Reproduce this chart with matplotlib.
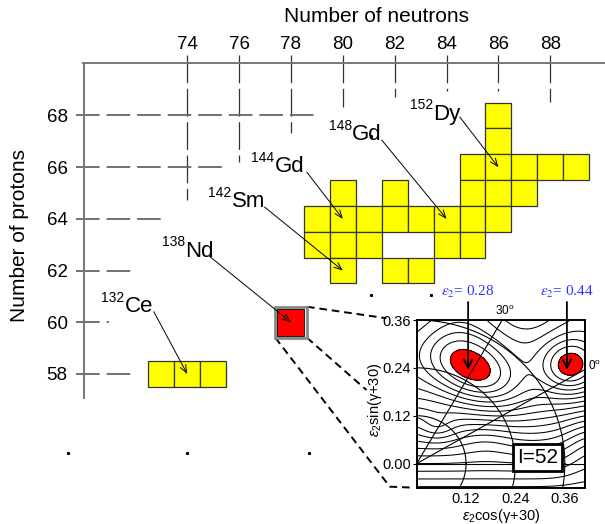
import numpy as np
import matplotlib.pyplot as plt
from matplotlib.patches import Rectangle

plt.rcParams['font.family'] = ['Liberation Sans', 'DejaVu Sans']
plt.rcParams['mathtext.fontset'] = 'custom'
plt.rcParams['mathtext.rm'] = 'Liberation Sans'
plt.rcParams['mathtext.it'] = 'Liberation Sans:italic'
plt.rcParams['lines.scale_dashes'] = False

# ---- nuclear chart data ----
# proton number -> neutron numbers of the yellow cells
yellow_cells = {
    68: [86],
    67: [86],
    66: [85, 86, 87, 88, 89],
    65: [80, 82, 85, 86, 87],
    64: [79, 80, 81, 82, 83, 84, 85, 86],
    63: [79, 80, 81, 84, 85],
    62: [80, 82, 83],
    58: [73, 74, 75],
}
red_cell = (78, 60)

neutron_ticks = [74, 76, 78, 80, 82, 84, 86, 88]
v_grid_end = [64.73, 66.2, 67.32, 68.33, 68.72, 68.95, 68.95, 68.52]
proton_ticks = [68, 66, 64, 62, 60, 58]
h_grid_end = [79.0, 75.37, 73.0, 72.0, 71.0, 72.0]

# isotope labels: mass, element, text x (N), baseline (Z), arrow start, arrow target
iso_mass = ['152', '148', '144', '142', '138', '132']
iso_elem = ['Dy', 'Gd', 'Gd', 'Sm', 'Nd', 'Ce']
iso_text_N = [83.47, 80.34, 77.37, 75.71, 73.90, 71.58]
iso_text_Z = [67.83, 67.05, 65.81, 64.46, 62.53, 60.40]
iso_start_N = [84.51, 81.50, 78.61, 76.98, 74.86, 72.71]
iso_start_Z = [67.94, 67.05, 65.81, 64.46, 62.55, 60.41]
iso_target_N = [86, 84, 80, 80, 78, 74]
iso_target_Z = [66, 64, 64, 62, 60, 58]

# zoom connector lines (main data coords)
conn_lines = [
    ([78.62, 81.68], [60.60, 60.155]),
    ([78.62, 80.91], [59.40, 57.38]),
    ([77.40, 81.81, 82.74], [59.40, 53.64, 53.60]),
]
speck_N = [69.4, 74.0, 78.7, 81.1, 81.1, 83.4]
speck_Z = [54.95, 54.95, 54.95, 67.2, 61.06, 61.06]

# ---- inset (TRS) data ----
inset_xticks = [0.12, 0.24, 0.36]
inset_yticks = [0.00, 0.12, 0.24, 0.36]
arc_radii = [0.12, 0.24, 0.36]
ray_angles = [30, 60]
# gaussian wells (negative) and bumps (positive) of the surface
well_x = [0.135, 0.374, 0.05, 0.27, 0.43, 0.17, 0.0]
well_y = [0.236, 0.243, 0.09, 0.42, 0.05, 0.06, 0.36]
well_depth = [-5.2, -5.0, -1.3, 3.0, 2.5, 0.9, 1.5]
well_sa = [0.09, 0.05, 0.03, 0.07, 0.05, 0.05, 0.06]
well_sb = [0.055, 0.05, 0.025, 0.07, 0.06, 0.035, 0.06]
well_ang = [-35, 0, 0, 0, 0, 0, 0]
slope_y0 = 0.2
slope_k = 52.0
red_above_min = 0.8
minima_x = [0.125, 0.365]
minima_y = [0.235, 0.235]
minima_label = [r'$\varepsilon_2$= 0.28', r'$\varepsilon_2$= 0.44']

fig = plt.figure(figsize=(6.05, 5.24), dpi=100)

# main axes: pixel box left 83.5, top 63, bottom 398
ax = fig.add_axes([83.5 / 605, 1 - 398 / 524, (605 - 83.5) / 605, (398 - 63) / 524])
ax.set_xlim(70, 90.11)
ax.set_ylim(57.07, 70.03)
ax.set_facecolor('none')
for side in ['right', 'bottom']:
    ax.spines[side].set_visible(False)
for side in ['left', 'top']:
    ax.spines[side].set_color('#777777')
    ax.spines[side].set_linewidth(1.4)

ax.xaxis.tick_top()
ax.set_xticks(neutron_ticks)
ax.set_yticks(proton_ticks)
ax.tick_params(axis='x', length=0, pad=7.5, labelsize=13.5)
ax.tick_params(axis='y', length=0, pad=11.5, labelsize=13.5)

# dashed guide lines (including the outer tick part)
for n, zend in zip(neutron_ticks, v_grid_end):
    ax.plot([n, n], [70.34, zend], color='#333333', lw=0.9,
            dashes=(20, 4), clip_on=False)
for z, nend in zip(proton_ticks, h_grid_end):
    ax.plot([69.71, nend], [z, z], color='#666666', lw=1.3,
            dashes=(17, 5), clip_on=False)

for z, ns in yellow_cells.items():
    for n in ns:
        ax.add_patch(Rectangle((n - 0.5, z - 0.5), 1, 1, fc='#ffff00',
                               ec='#333333', lw=0.9, zorder=3))

rn, rz = red_cell
ax.add_patch(Rectangle((rn - 0.61, rz - 0.6), 1.22, 1.2, fc='white',
                       ec='#888888', lw=2.0, zorder=3))
ax.add_patch(Rectangle((rn - 0.52, rz - 0.52), 1.04, 1.04, fc='#ff0000',
                       ec='#222222', lw=0.8, zorder=3))

for m, el, tx, tz, sx, sz, gx, gz in zip(iso_mass, iso_elem, iso_text_N, iso_text_Z,
                                         iso_start_N, iso_start_Z, iso_target_N, iso_target_Z):
    ax.text(tx, tz, el, fontsize=16, ha='left', va='baseline', zorder=5)
    ax.annotate(m, xy=(tx, tz), xytext=(0, 7.5), textcoords='offset points',
                fontsize=10, ha='right', va='baseline', zorder=5)
    ax.annotate('', xy=(gx, gz), xytext=(sx, sz), zorder=6,
                arrowprops=dict(arrowstyle='->,head_length=0.55,head_width=0.22',
                                lw=0.7, color='black', shrinkA=0, shrinkB=0))

for xs, ys in conn_lines:
    ax.plot(xs, ys, color='black', lw=1.4, dashes=(5.5, 3.5), clip_on=False, zorder=2)

ax.plot(speck_N, speck_Z, ls='none', marker='s', ms=1.2, color='black', clip_on=False)

fig.text(376 / 605, 1 - 17 / 524, 'Number of neutrons', ha='center', va='center', fontsize=15)
fig.text(20 / 605, 1 - 236 / 524, 'Number of protons', ha='center', va='center',
         rotation=90, fontsize=15)

# ---- inset ----
ax2 = fig.add_axes([416.7 / 605, 1 - 488.3 / 524, 168.3 / 605, 168.3 / 524])
xmax, ymin, ymax = 0.409, -0.062, 0.36
ax2.set_xlim(0, xmax)
ax2.set_ylim(ymin, ymax)

gxs = np.linspace(0, xmax, 400)
gys = np.linspace(ymin, ymax, 400)
X, Y = np.meshgrid(gxs, gys)
s = 0.04
E = slope_k * s * np.log1p(np.exp((slope_y0 - Y) / s))
for wx, wy, d, sa, sb, ang in zip(well_x, well_y, well_depth, well_sa, well_sb, well_ang):
    t = np.deg2rad(ang)
    u = (X - wx) * np.cos(t) + (Y - wy) * np.sin(t)
    v = -(X - wx) * np.sin(t) + (Y - wy) * np.cos(t)
    E += d * np.exp(-0.5 * ((u / sa) ** 2 + (v / sb) ** 2))

red_level = max(E[(X < 0.25) & (Y > 0.15)].min(), E[X > 0.3].min()) + red_above_min
levels = red_level + np.arange(0, 40) * 1.0
ax2.contourf(X, Y, E, levels=[E.min() - 1, red_level], colors=['#ff0000'])
ax2.contour(X, Y, E, levels=levels, colors='black', linewidths=0.75,
            negative_linestyles='solid')

th = np.linspace(0, 2 * np.pi, 400)
for r in arc_radii:
    ax2.plot(r * np.cos(th), r * np.sin(th), color='black', lw=0.8)
for a in ray_angles:
    ax2.plot([0, 1], [0, np.tan(np.deg2rad(a))], color='black', lw=0.8)
ax2.axhline(0, color='black', lw=0.8)
ax2.set_xlim(0, xmax)
ax2.set_ylim(ymin, ymax)

ax2.set_xticks(inset_xticks)
ax2.set_yticks(inset_yticks)
ax2.set_xticklabels(['%.2f' % v for v in inset_xticks])
ax2.set_yticklabels(['%.2f' % v for v in inset_yticks])
ax2.tick_params(axis='y', direction='out', length=3, pad=1, labelsize=10.5)
ax2.tick_params(axis='x', direction='in', length=0, pad=3, labelsize=10.5)
for sp in ax2.spines.values():
    sp.set_linewidth(1.4)

ax2.text(0.5, -0.165, r'$\varepsilon_2$cos(γ+30)', transform=ax2.transAxes,
         ha='center', va='center', fontsize=10.5)
ax2.text(-0.25, 0.525, r'$\varepsilon_2$sin(γ+30)', transform=ax2.transAxes,
         ha='center', va='center', rotation=90, fontsize=10.5)

ax2.text(0.2145, 0.383, r'30$^{\mathrm{o}}$', ha='center', va='center', fontsize=8.5,
         clip_on=False)
ax2.text(0.416, 0.2435, r'0$^{\mathrm{o}}$', ha='left', va='center', fontsize=8.5,
         clip_on=False)

for mx, my, lab in zip(minima_x, minima_y, minima_label):
    ax2.annotate('', xy=(mx, my), xytext=(mx, 0.405), annotation_clip=False,
                 arrowprops=dict(arrowstyle='->,head_length=0.6,head_width=0.3',
                                 lw=1.3, color='black', shrinkA=0, shrinkB=0))
    ax2.text(mx, 0.43, lab, ha='center', va='center', fontsize=11, color='#3333ff',
             family='Liberation Serif', math_fontfamily='stix', clip_on=False)

ax2.text(0.2934, 0.015, 'I=52', ha='center', va='center', fontsize=15, zorder=6,
         bbox=dict(boxstyle='square,pad=0.2', fc='white', ec='black', lw=2.0))

fig.savefig('out.png', dpi=100)
